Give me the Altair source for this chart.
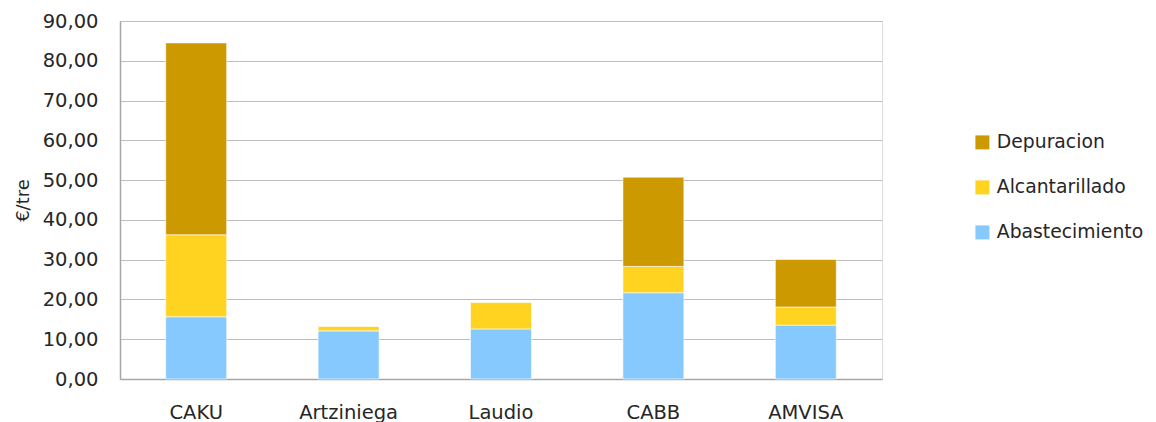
import altair as alt
import pandas as pd

categorias = ["CAKU", "Artziniega", "Laudio", "CABB", "AMVISA"]
abastecimiento = [15.65, 12.1, 12.6, 21.7, 13.55]
alcantarillado = [20.6, 1.1, 6.65, 6.6, 4.55]
depuracion = [48.25, 0.0, 0.0, 22.45, 11.95]

series = ["Depuracion", "Alcantarillado", "Abastecimiento"]
colores = ["#CC9900", "#FFD320", "#85C9FF"]
orden = {"Abastecimiento": 0, "Alcantarillado": 1, "Depuracion": 2}

rows = []
for i, c in enumerate(categorias):
    for s, vals in (("Abastecimiento", abastecimiento), ("Alcantarillado", alcantarillado), ("Depuracion", depuracion)):
        rows.append({"categoria": c, "serie": s, "valor": vals[i], "orden": orden[s]})
df = pd.DataFrame(rows)

FONT = "DejaVu Sans"
TXT = "#262626"
FS = 19.5

chart = alt.Chart(df).transform_filter("datum.valor > 0").mark_bar(
    stroke="white", strokeWidth=0.6
).encode(
    x=alt.X("categoria:N", sort=categorias, title=None,
            scale=alt.Scale(paddingInner=0.6, paddingOuter=0.3),
            axis=alt.Axis(labelAngle=0, labelFontSize=FS, labelFont=FONT, labelColor=TXT,
                          ticks=False, labelBaseline="alphabetic", labelPadding=39,
                          domainColor="#a6a6a6", domainWidth=1.5)),
    y=alt.Y("valor:Q", stack="zero", title="€/tre",
            scale=alt.Scale(domain=[0, 90], nice=False),
            axis=alt.Axis(values=list(range(0, 91, 10)),
                          labelExpr="replace(format(datum.value, '.2f'), '.', ',')",
                          labelFontSize=FS, labelFont=FONT, labelColor=TXT, labelPadding=22,
                          ticks=False, domainColor="#a6a6a6", domainWidth=1.5,
                          gridColor="#bdbdbd", gridWidth=1.2,
                          titleFont=FONT, titleFontSize=18, titleFontWeight="normal",
                          titleColor=TXT, titlePadding=10)),
    color=alt.Color("serie:N", scale=alt.Scale(domain=series, range=colores),
                    legend=alt.Legend(title=None, orient="none", legendX=853, legendY=112,
                                      symbolType="square", symbolSize=196, symbolStrokeWidth=0,
                                      labelFontSize=18.8, labelFont=FONT, labelColor=TXT,
                                      rowPadding=25, labelOffset=5)),
    order=alt.Order("orden:Q", sort="ascending"),
).properties(
    width=762, height=358,
    autosize=alt.AutoSizeParams(type="none"),
    padding={"left": 112, "top": 13, "right": 266, "bottom": 43},
).configure_view(
    stroke="#b0b0b0", strokeWidth=1.5
).configure(background="white")

chart.save("out.html", embed_options={"renderer": "svg", "actions": False})
